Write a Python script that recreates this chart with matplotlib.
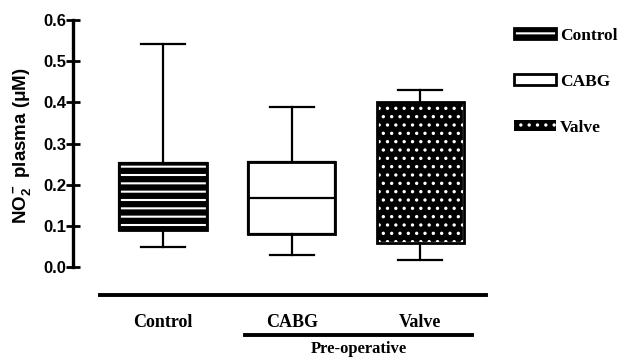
import matplotlib
matplotlib.use('Agg')
import matplotlib.pyplot as plt
from matplotlib.patches import PathPatch, Patch

plt.rcParams['font.family'] = ['Liberation Serif', 'DejaVu Serif']
plt.rcParams['font.weight'] = 'bold'
plt.rcParams['mathtext.fontset'] = 'custom'
plt.rcParams['mathtext.rm'] = 'Liberation Sans:bold'
plt.rcParams['mathtext.it'] = 'Liberation Sans:bold'
plt.rcParams['mathtext.bf'] = 'Liberation Sans:bold'

# box statistics (uM)
groups = ['Control', 'CABG', 'Valve']
whislo = [0.049, 0.029, 0.017]
q1 = [0.090, 0.080, 0.058]
med = [0.170, 0.167, 0.230]
q3 = [0.252, 0.255, 0.400]
whishi = [0.541, 0.388, 0.430]
yticks = [0.0, 0.1, 0.2, 0.3, 0.4, 0.5, 0.6]

hatches = ['--', '', '..']
faces = ['white', 'white', 'black']
hatch_cols = ['black', 'black', 'white']
hatch_lw = [4.5, 1.0, 1.2]


def set_hlw(p, w):
    if hasattr(p, 'set_hatch_linewidth'):
        p.set_hatch_linewidth(w)
    else:
        p._hatch_linewidth = w


stats = [dict(label=g, whislo=a, q1=b, med=c, q3=d, whishi=e)
         for g, a, b, c, d, e in zip(groups, whislo, q1, med, q3, whishi)]

fig = plt.figure(figsize=(6.22, 3.58), dpi=100)
ax = fig.add_axes([73/622, 1-267/358, 427/622, 247/358])

bp = ax.bxp(stats, positions=[1, 2, 3], widths=0.68, patch_artist=True,
            showfliers=False,
            whiskerprops=dict(color='black', lw=1.6),
            capprops=dict(color='black', lw=1.6),
            medianprops=dict(color='black', lw=1.6),
            boxprops=dict(lw=1.6))
for box, h, fc, hc, hw in zip(bp['boxes'], hatches, faces, hatch_cols, hatch_lw):
    box.set_facecolor(fc)
    box.set_hatch(h)
    box.set_edgecolor(hc)
    set_hlw(box, hw)
    ax.add_patch(PathPatch(box.get_path(), fill=False, ec='black', lw=2, zorder=3))
# median hidden in hatched boxes
bp['medians'][0].set_visible(False)
bp['medians'][2].set_visible(False)

ax.set_ylim(0, 0.6)
ax.set_xlim(0.30, 3.62)
ax.set_yticks(yticks)
ax.set_yticklabels([f'{t:.1f}' for t in yticks], fontsize=12, fontweight='bold',
                   family='Liberation Sans')
ax.tick_params(axis='y', direction='inout', length=10, width=2, pad=0)
ax.set_xticks([])
for s in ['top', 'right', 'bottom']:
    ax.spines[s].set_visible(False)
ax.spines['left'].set_linewidth(2.4)

# group lines and labels below the axis
ax.plot([0.51, 3.51], [-0.068, -0.068], color='black', lw=2.8, clip_on=False)
for i, g in enumerate(groups):
    ax.text(i + 1, -0.134, g, ha='center', va='center', fontsize=13, fontweight='bold')
ax.plot([1.64, 3.40], [-0.165, -0.165], color='black', lw=2.8, clip_on=False)
ax.text(2.52, -0.198, 'Pre-operative', ha='center', va='center', fontsize=12, fontweight='bold')

fig.text(22/622, 1-146/358, 'NO$_2^-$ plasma (μM)', rotation=90, ha='center', va='center',
         fontsize=13.5, fontweight='bold', family='Liberation Sans')

handles = []
for g, h, fc, hc in zip(groups, hatches, faces, hatch_cols):
    lw = 0 if fc == 'black' else 2
    handles.append(Patch(facecolor=fc, edgecolor=hc, hatch=h, label=g, lw=lw))
leg = fig.legend(handles=handles, loc='upper left', bbox_to_anchor=(507/622, 1-21/358),
                 frameon=False, handlelength=2.4, handleheight=0.6,
                 labelspacing=1.72, handletextpad=0.25, borderaxespad=0,
                 prop=dict(weight='bold', size=12.5, family='Liberation Serif'))
for lp, hw in zip(leg.get_patches(), hatch_lw):
    set_hlw(lp, hw)

fig.savefig('out.png', dpi=100)
